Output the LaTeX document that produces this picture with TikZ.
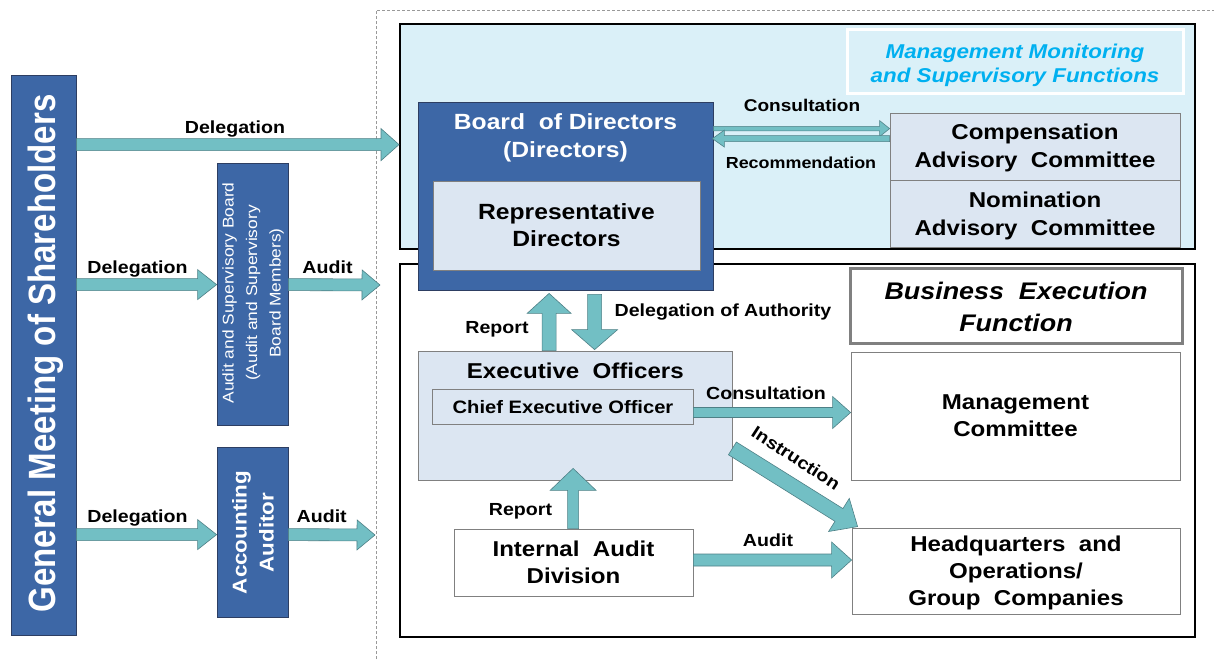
\documentclass[tikz,border=0pt]{standalone}
\usepackage{fontspec}
\setmainfont{Liberation Sans}[FakeStretch=1.12]
\newfontfamily\gmfont{Liberation Sans}[FakeStretch=0.87]
\usetikzlibrary{calc}

\definecolor{dkblue}{RGB}{61,103,166}
\definecolor{dkedge}{RGB}{45,62,98}
\definecolor{ltblue}{RGB}{220,230,242}
\definecolor{panelcyan}{RGB}{218,240,248}
\definecolor{arrowfill}{RGB}{114,191,196}
\definecolor{arrowedge}{RGB}{78,128,134}
\definecolor{titlecyan}{RGB}{0,176,240}
\definecolor{boxedge}{RGB}{128,128,128}

\newcommand\fsz[2]{\fontsize{#1}{#2}\selectfont}

% block arrow between two points: [opts]{from}{to}{shaft half width}{head half width}{head length}
\newcommand\blockarrow[6][]{%
  \draw[barrow,#1] let \p1=(#2), \p2=(#3),
    \n1={atan2(\y2-\y1,\x2-\x1)}, \n2={veclen(\x2-\x1,\y2-\y1)} in
    ([xshift=\x1,yshift=\y1,rotate=\n1]0pt,-#4pt)
    -- ([xshift=\x1,yshift=\y1,rotate=\n1]\n2*1pt-#6pt,-#4pt)
    -- ([xshift=\x1,yshift=\y1,rotate=\n1]\n2*1pt-#6pt,-#5pt)
    -- ([xshift=\x1,yshift=\y1,rotate=\n1]\n2*1pt,0pt)
    -- ([xshift=\x1,yshift=\y1,rotate=\n1]\n2*1pt-#6pt,#5pt)
    -- ([xshift=\x1,yshift=\y1,rotate=\n1]\n2*1pt-#6pt,#4pt)
    -- ([xshift=\x1,yshift=\y1,rotate=\n1]0pt,#4pt) -- cycle;}

\tikzset{
  barrow/.style={fill=arrowfill, draw=arrowedge, line width=0.6pt, line join=miter},
  frame/.style={draw=gray!80, dashed, dash pattern=on 3pt off 2pt, line width=0.8pt},
  panel/.style={rectangle, draw=black, line width=2pt, inner sep=0pt},
  darkbox/.style={rectangle, fill=dkblue, draw=dkedge, line width=0.8pt, inner sep=0pt},
  litebox/.style={rectangle, fill=ltblue, draw=boxedge, line width=0.8pt, inner sep=0pt},
  whitebox/.style={rectangle, fill=white, draw=boxedge, line width=0.8pt, inner sep=0pt},
  boxtext/.style={align=center, inner sep=0pt, font=\bfseries\fsz{21.5}{27.5}},
  lab/.style={anchor=base, inner sep=0pt, font=\bfseries\fsz{17.5}{20}},
}

\begin{document}
\begin{tikzpicture}[x=1pt,y=-1pt]
\useasboundingbox[fill=white] (0,0) rectangle (1214,659);

% dashed boundary of the company organs
\draw[frame] (376,659) -- (376,10) -- (1214,10);

% panels
\node[panel, fill=panelcyan, minimum width=795pt, minimum height=225pt] (upper) at (797.5,136.5) {};
\node[panel, fill=white, minimum width=795pt, minimum height=373pt] (lower) at (797.5,450.5) {};

% panel titles
\node[rectangle, draw=white, line width=3pt, fill=panelcyan, minimum width=336pt, minimum height=64pt] (mmtitle) at (1015,61) {};
\node[align=center, inner sep=0pt, text=titlecyan, font=\bfseries\itshape\fsz{20}{24}] at (1015,65)
  {Management Monitoring\\and Supervisory Functions};
\node[rectangle, draw=boxedge, line width=3pt, fill=white, minimum width=332pt, minimum height=75pt] (beftitle) at (1016,305.5) {};
\node[align=center, inner sep=0pt, font=\bfseries\itshape\fsz{24}{31.5}] at (1016,307)
  {Business\ \ Execution\\Function};

% left column
\node[darkbox, minimum width=65pt, minimum height=560pt] (gm) at (43.5,355) {};
\node[rotate=90, inner sep=0pt, text=white, font=\gmfont\bfseries\fsz{38}{40}] at (46,353.5)
  {General Meeting of Shareholders};
\node[darkbox, minimum width=71pt, minimum height=262pt] (asb) at (252.5,294) {};
\node[rotate=90, align=center, inner sep=0pt, text=white, font=\fsz{15.5}{23.5}] at (253,293)
  {Audit and Supervisory Board\\(Audit and Supervisory\\Board Members)};
\node[darkbox, minimum width=71pt, minimum height=170pt] (aa) at (252.5,532) {};
\node[rotate=90, align=center, inner sep=0pt, text=white, font=\bfseries\fsz{20}{27}] at (253,532.5)
  {Accounting\\Auditor};

% board of directors
\node[darkbox, minimum width=295pt, minimum height=188pt] (bod) at (565.5,196) {};
\node[align=center, inner sep=0pt, text=white, font=\bfseries\fsz{22}{28}] at (565.5,138.3)
  {Board\ \ of Directors\\(Directors)};
\node[litebox, minimum width=267pt, minimum height=89pt] (rep) at (566.5,225.5) {};
\node[boxtext, font=\bfseries\fsz{22}{27}] at (566.5,225.5) {Representative\\Directors};

% advisory committees
\node[litebox, minimum width=290pt, minimum height=67pt] (comp) at (1035,146.5) {};
\node[boxtext, font=\bfseries\fsz{21.5}{28}] at (1035,148.4) {Compensation\\Advisory\ \ Committee};
\node[litebox, minimum width=290pt, minimum height=67pt] (nom) at (1035,213.5) {};
\node[boxtext, font=\bfseries\fsz{21.5}{28}] at (1035,215.8) {Nomination\\Advisory\ \ Committee};

% executive side
\node[litebox, minimum width=314pt, minimum height=129pt] (exec) at (575,415.5) {};
\node[lab, font=\bfseries\fsz{21.5}{26}] at (575.3,378.3) {Executive\ \ Officers};
\node[litebox, minimum width=261pt, minimum height=35pt] (ceo) at (562.5,406.5) {};
\node[lab, font=\bfseries\fsz{18}{22}] at (563,413.3) {Chief Executive Officer};
\node[whitebox, minimum width=329pt, minimum height=128pt] (mc) at (1015.5,416) {};
\node[boxtext] at (1015.5,415.8) {Management\\Committee};
\node[whitebox, minimum width=239pt, minimum height=67pt] (iad) at (573.5,562.5) {};
\node[boxtext] at (573.5,562.5) {Internal\ \ Audit\\Division};
\node[whitebox, minimum width=328pt, minimum height=86pt] (hq) at (1016,571) {};
\node[boxtext, font=\bfseries\fsz{21.5}{27}] at (1016,573) {Headquarters\ \ and\\Operations/\\Group\ \ Companies};

% delegation from shareholders and audits
\coordinate (d1) at ($(gm.north east)+(0,70)$);
\blockarrow{d1}{upper.west |- d1}{6}{16}{18}
\coordinate (d2) at ($(gm.north east)+(0,210)$);
\blockarrow{d2}{asb.west |- d2}{6}{15}{19}
\coordinate (a2) at (380,285);
\blockarrow{asb.east |- d2}{a2}{6}{15}{18}
\coordinate (d3) at ($(gm.north east)+(0,460)$);
\blockarrow{d3}{aa.west |- d3}{6}{15}{19}
\coordinate (a3) at (375,535);
\blockarrow{aa.east |- d3}{a3}{6}{15}{18}

% consultation and recommendation between board and committees
\coordinate (k1) at ($(bod.north east)+(0,27)$);
\coordinate (k2) at ($(bod.north east)+(-1,37)$);
\blockarrow{k1}{comp.west |- k1}{2.3}{8}{10}
\blockarrow{comp.west |- k2}{k2}{3}{8.5}{12}

% reporting lines and delegation of authority
\coordinate (r1s) at ($(exec.north west)+(131.5,0)$);
\coordinate (r1t) at ($(bod.south west)+(131.5,3)$);
\blockarrow{r1s}{r1t}{7}{22}{20}
\coordinate (dos) at ($(bod.south west)+(177,4)$);
\coordinate (dot) at ($(exec.north west)+(177,-1)$);
\blockarrow{dos}{dot}{7}{23}{20}
\coordinate (r2s) at ($(iad.north west)+(119.5,0)$);
\coordinate (r2t) at ($(exec.south west)+(155.5,-12)$);
\blockarrow{r2s}{r2t}{5.5}{23}{22}

% executive instructions and internal audit
\coordinate (cs) at ($(ceo.east)+(0,6)$);
\blockarrow{cs}{mc.west |- cs}{5}{16}{18}
\coordinate (is) at ($(exec.south east)+(0,-32)$);
\coordinate (it) at ($(hq.north west)+(6,-1)$);
\blockarrow{is}{it}{7.5}{19.5}{22}
\coordinate (as) at ($(iad.east)+(0,-2.5)$);
\blockarrow{as}{hq.west |- as}{6}{18}{20}

% connector labels
\node[lab] at (235,133) {Delegation};
\node[lab] at (137.5,273.3) {Delegation};
\node[lab] at (327.5,273.3) {Audit};
\node[lab] at (137.5,522.7) {Delegation};
\node[lab] at (321.7,522.7) {Audit};
\node[lab, font=\bfseries\fsz{17}{20}] at (802,111) {Consultation};
\node[lab, font=\bfseries\fsz{16}{20}] at (801,168.3) {Recommendation};
\node[lab] at (497,333) {Report};
\node[lab] at (723,316.7) {Delegation of Authority};
\node[lab] at (766,399.3) {Consultation};
\node[lab, anchor=center, rotate=-33] at (796,458) {Instruction};
\node[lab] at (520.5,515) {Report};
\node[lab] at (768,546.7) {Audit};
\end{tikzpicture}
\end{document}
